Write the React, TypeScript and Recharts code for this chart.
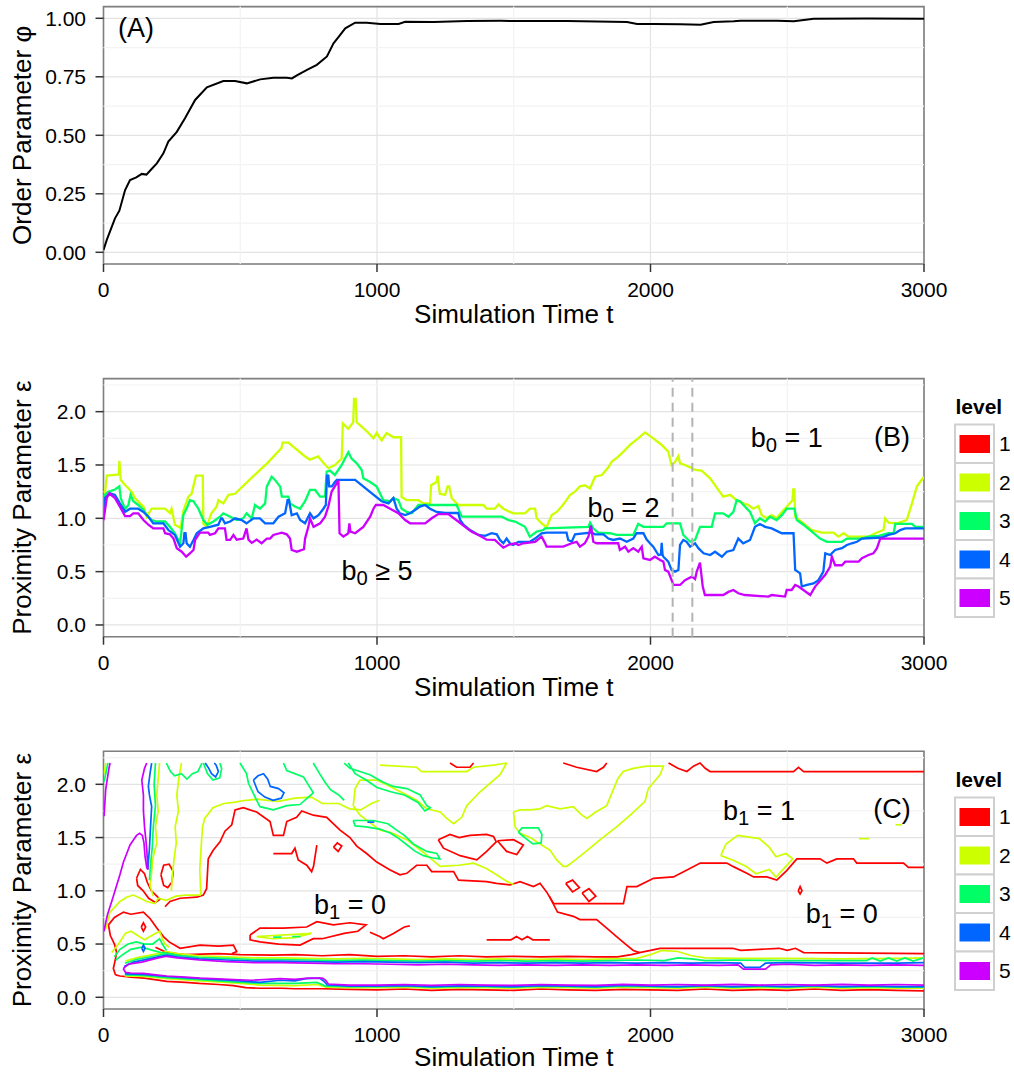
import React from 'react';
import {
  LineChart, Line, XAxis, YAxis, CartesianGrid, ReferenceLine, ReferenceArea, ReferenceDot, Legend,
} from 'recharts';

const FONT = '"Liberation Sans", Arial, Helvetica, sans-serif';
const COLORS = ['#FF0000', '#CCFF00', '#00FF66', '#0066FF', '#CC00FF'];
const LEVELS = ['1', '2', '3', '4', '5'];

const X_TICKS = [0, 1000, 2000, 3000];
const X_MINOR = [500, 1500, 2500];
const A_TICKS = [0, 0.25, 0.5, 0.75, 1];
const A_MINOR = [0.125, 0.375, 0.625, 0.875];
const BC_TICKS = [0, 0.5, 1, 1.5, 2];
const BC_MINOR = [0.25, 0.75, 1.25, 1.75, 2.25];

// ---------- Panel A : order parameter ----------
const phiTime = [0, 12, 42, 58, 79, 97, 120, 140, 157, 175, 195, 219, 237, 268, 298, 335, 378, 438, 481, 524, 573, 621, 670, 689, 707, 744, 780, 817, 841, 859, 884, 920, 963, 1012, 1079, 1103, 1207, 1329, 1451, 1695, 1914, 1951, 2012, 2109, 2183, 2231, 2304, 2329, 2463, 2524, 2597, 2793, 3000];
const phiValue = [0.01, 0.053, 0.145, 0.178, 0.266, 0.309, 0.32, 0.335, 0.332, 0.355, 0.38, 0.423, 0.473, 0.515, 0.573, 0.651, 0.705, 0.732, 0.732, 0.722, 0.739, 0.746, 0.746, 0.743, 0.756, 0.78, 0.801, 0.837, 0.893, 0.92, 0.957, 0.981, 0.981, 0.976, 0.976, 0.985, 0.984, 0.988, 0.989, 0.988, 0.984, 0.976, 0.976, 0.975, 0.972, 0.984, 0.987, 0.99, 0.99, 0.987, 0.998, 0.999, 0.998];

// ---------- Panel B : b0 persistence levels ----------
const level2B = [[0,1.0],[5,1.22],[12,1.4],[50,1.41],[56,1.41],[58,1.54],[63,1.36],[80,1.31],[103,1.25],[115,1.19],[146,1.11],[158,1.015],[176,1.09],[225,1.09],[243,1.05],[249,1.09],[261,0.94],[282,0.91],[292,1.07],[310,1.2],[322,1.23],[338,1.4],[363,1.4],[365,0.95],[377,0.92],[395,1.05],[414,1.11],[420,1.17],[438,1.14],[457,1.22],[481,1.23],[550,1.4],[600,1.52],[651,1.66],[655,1.71],[676,1.71],[737,1.58],[755,1.55],[785,1.58],[804,1.52],[822,1.47],[846,1.5],[871,1.56],[875,1.89],[895,1.84],[913,1.9],[916,2.12],[922,2.12],[926,1.9],[944,1.86],[969,1.8],[987,1.75],[999,1.8],[1017,1.73],[1035,1.8],[1060,1.76],[1088,1.76],[1090,1.2],[1109,1.17],[1151,1.17],[1169,1.14],[1194,1.14],[1198,1.31],[1218,1.34],[1222,1.4],[1226,1.3],[1230,1.23],[1249,1.22],[1258,1.3],[1264,1.3],[1273,1.19],[1297,1.125],[1389,1.125],[1401,1.09],[1431,1.09],[1444,1.13],[1462,1.09],[1486,1.06],[1498,1.047],[1541,1.047],[1559,1.09],[1578,1.09],[1584,1.0],[1602,0.953],[1620,0.916],[1639,1.03],[1657,1.06],[1675,1.11],[1687,1.15],[1706,1.22],[1724,1.25],[1742,1.3],[1760,1.31],[1779,1.28],[1797,1.39],[1822,1.406],[1846,1.478],[1858,1.53],[1882,1.578],[1901,1.625],[1925,1.688],[1955,1.75],[1980,1.806],[2010,1.75],[2040,1.69],[2065,1.625],[2077,1.5],[2090,1.53],[2102,1.584],[2108,1.516],[2126,1.5],[2145,1.478],[2163,1.453],[2187,1.447],[2218,1.375],[2248,1.266],[2266,1.203],[2291,1.22],[2315,1.17],[2339,1.14],[2358,1.125],[2376,1.09],[2394,1.115],[2407,1.03],[2425,1.0],[2443,1.03],[2461,1.0],[2480,1.06],[2504,1.125],[2519,1.17],[2522,1.27],[2526,1.27],[2529,1.015],[2559,0.953],[2590,0.89],[2626,0.866],[2669,0.866],[2687,0.828],[2706,0.86],[2724,0.828],[2797,0.828],[2822,0.86],[2852,0.89],[2858,1.0],[2870,0.96],[2901,0.953],[2937,0.984],[2956,1.14],[2974,1.3],[3000,1.39]];
const level3B = [[0,1.0],[5,1.22],[18,1.25],[42,1.27],[58,1.3],[63,1.19],[79,1.085],[91,1.125],[99,1.22],[109,1.16],[127,1.125],[146,1.08],[158,1.03],[176,0.984],[195,0.97],[225,0.97],[243,0.92],[261,0.86],[280,0.766],[286,0.9],[292,1.03],[307,1.11],[316,1.17],[329,1.16],[347,1.09],[365,0.984],[380,0.94],[402,0.97],[426,1.015],[438,1.047],[463,1.015],[487,0.984],[511,1.0],[523,1.047],[542,1.0],[554,1.125],[572,1.09],[591,1.14],[597,1.297],[615,1.39],[627,1.36],[646,1.297],[652,1.203],[676,1.203],[682,1.14],[700,1.11],[719,1.09],[737,1.16],[755,1.266],[774,1.266],[792,1.203],[810,1.203],[816,1.437],[828,1.447],[846,1.406],[871,1.5],[883,1.56],[895,1.62],[907,1.56],[926,1.516],[944,1.453],[950,1.375],[975,1.34],[999,1.297],[1023,1.17],[1048,1.16],[1060,1.19],[1078,1.17],[1090,1.09],[1109,1.06],[1127,1.047],[1151,1.125],[1291,1.125],[1310,1.015],[1456,1.015],[1480,0.984],[1505,0.97],[1541,0.92],[1559,0.828],[1584,0.875],[1608,0.89],[1614,0.906],[1773,0.92],[1779,0.96],[1791,0.906],[1809,0.866],[1852,0.86],[1876,0.844],[1937,0.844],[1955,0.947],[1974,0.92],[2047,0.92],[2059,0.953],[2108,0.953],[2120,0.844],[2145,0.78],[2163,0.797],[2181,0.92],[2224,0.92],[2236,1.047],[2266,1.047],[2285,1.015],[2303,1.06],[2315,1.17],[2327,1.16],[2345,1.11],[2364,1.06],[2382,0.953],[2400,1.0],[2419,0.97],[2437,1.015],[2461,0.984],[2480,1.03],[2498,1.09],[2526,1.09],[2535,0.984],[2559,0.94],[2590,0.875],[2620,0.81],[2645,0.78],[2700,0.78],[2718,0.81],[2773,0.81],[2797,0.828],[2834,0.835],[2870,0.86],[2889,0.86],[2895,0.947],[2956,0.947],[2968,0.92],[3000,0.92]];
const level4B = [[0,1.0],[5,1.19],[24,1.234],[42,1.22],[60,1.14],[79,1.06],[97,1.09],[127,1.09],[146,1.06],[164,1.015],[182,0.953],[219,0.953],[237,0.89],[261,0.844],[280,0.734],[292,0.766],[296,0.86],[300,0.86],[304,0.766],[316,0.734],[329,0.797],[341,0.86],[365,0.906],[389,0.92],[420,0.94],[430,1.0],[434,1.0],[444,0.953],[463,0.97],[481,1.0],[505,0.984],[523,0.953],[548,1.0],[572,1.0],[591,0.953],[621,0.953],[640,1.015],[664,1.047],[673,1.17],[678,1.17],[688,1.03],[707,1.047],[719,0.984],[737,0.953],[755,1.047],[768,1.0],[786,1.03],[804,1.09],[813,1.125],[817,1.4],[822,1.4],[825,1.3],[835,1.3],[846,1.34],[853,1.36],[920,1.36],[981,1.234],[1017,1.16],[1042,1.14],[1060,1.19],[1072,1.09],[1084,1.047],[1103,1.03],[1121,1.047],[1139,1.078],[1157,1.11],[1176,1.125],[1194,1.09],[1218,1.06],[1249,1.05],[1297,1.05],[1304,0.984],[1316,0.94],[1340,0.89],[1371,0.844],[1395,0.835],[1419,0.86],[1438,0.85],[1450,0.797],[1462,0.766],[1474,0.81],[1486,0.766],[1498,0.75],[1517,0.78],[1559,0.78],[1578,0.81],[1602,0.86],[1620,0.866],[1693,0.866],[1699,0.797],[1712,0.78],[1724,0.85],[1779,0.866],[1782,0.93],[1785,0.866],[1797,0.85],[1828,0.85],[1846,0.81],[1864,0.797],[1888,0.81],[1913,0.78],[1937,0.81],[1949,0.86],[1974,0.86],[1986,0.8],[1998,0.766],[2010,0.734],[2029,0.656],[2038,0.66],[2041,0.77],[2044,0.66],[2047,0.64],[2065,0.594],[2077,0.516],[2090,0.5],[2102,0.516],[2108,0.75],[2120,0.797],[2132,0.78],[2145,0.734],[2163,0.766],[2175,0.72],[2194,0.672],[2218,0.656],[2236,0.687],[2261,0.64],[2279,0.687],[2303,0.703],[2321,0.81],[2339,0.766],[2364,0.797],[2382,0.92],[2400,0.947],[2419,0.92],[2443,0.906],[2480,0.86],[2523,0.86],[2529,0.516],[2547,0.484],[2553,0.36],[2572,0.375],[2596,0.39],[2614,0.42],[2632,0.5],[2639,0.672],[2657,0.656],[2675,0.703],[2700,0.72],[2718,0.75],[2736,0.766],[2755,0.78],[2773,0.81],[2846,0.82],[2870,0.844],[2895,0.86],[2913,0.89],[2931,0.906],[3000,0.906]];
const level5B = [[0,0.98],[12,1.19],[21,1.234],[42,1.19],[60,1.11],[79,1.02],[97,1.02],[109,1.047],[127,1.047],[146,0.984],[164,0.94],[182,0.906],[219,0.906],[225,0.86],[243,0.85],[256,0.81],[268,0.719],[286,0.687],[302,0.64],[316,0.672],[329,0.703],[335,0.797],[347,0.844],[353,0.866],[383,0.866],[389,0.844],[408,0.86],[420,0.906],[444,0.906],[450,0.797],[463,0.797],[475,0.844],[487,0.8],[511,0.81],[523,0.906],[530,0.8],[542,0.77],[560,0.8],[578,0.766],[597,0.81],[609,0.81],[621,0.844],[652,0.866],[670,0.85],[682,0.81],[688,0.703],[707,0.687],[733,0.71],[737,0.81],[749,0.92],[755,1.0],[768,0.92],[792,0.953],[810,1.015],[822,1.11],[834,1.25],[853,1.33],[859,1.36],[863,0.86],[877,0.828],[895,0.86],[899,0.953],[903,0.875],[920,0.86],[950,0.92],[975,1.015],[987,1.09],[996,1.125],[1023,1.125],[1048,1.09],[1078,1.047],[1103,0.984],[1121,0.953],[1176,0.953],[1200,1.0],[1224,1.04],[1261,1.04],[1297,0.97],[1322,0.92],[1346,0.875],[1371,0.844],[1401,0.8],[1431,0.797],[1444,0.766],[1462,0.725],[1480,0.75],[1505,0.766],[1517,0.75],[1535,0.766],[1578,0.78],[1602,0.828],[1614,0.77],[1620,0.734],[1681,0.734],[1712,0.766],[1730,0.78],[1742,0.734],[1760,0.766],[1773,0.828],[1782,0.93],[1791,0.78],[1803,0.766],[1882,0.766],[1888,0.703],[1907,0.734],[1919,0.687],[1937,0.72],[1955,0.687],[1968,0.734],[1974,0.625],[1998,0.61],[2016,0.64],[2035,0.61],[2047,0.594],[2053,0.516],[2065,0.5],[2084,0.375],[2108,0.375],[2126,0.42],[2151,0.453],[2163,0.43],[2169,0.5],[2181,0.584],[2191,0.36],[2199,0.281],[2266,0.281],[2285,0.31],[2303,0.328],[2321,0.297],[2345,0.281],[2431,0.266],[2443,0.281],[2492,0.266],[2498,0.328],[2516,0.328],[2529,0.375],[2541,0.36],[2559,0.328],[2584,0.281],[2602,0.36],[2639,0.47],[2657,0.547],[2663,0.64],[2675,0.56],[2700,0.56],[2712,0.594],[2761,0.594],[2773,0.625],[2797,0.656],[2815,0.672],[2828,0.72],[2840,0.81],[3000,0.81]];
const dashedTimes = [2081, 2153];

// ---------- Panel C : b1 contour paths ----------
const cRedTop = [[2066,2.2],[2100,2.15],[2133,2.12],[2157,2.17],[2181,2.2],[2200,2.15],[2218,2.12],[2523,2.12],[2541,2.16],[2560,2.12],[3000,2.12]];
const cRedCupA = [[1267,2.2],[1291,2.16],[1340,2.16],[1353,2.2]];
const cRedCupB = [[1681,2.2],[1730,2.16],[1803,2.12],[1828,2.16],[1840,2.2]];
const cRedBig = [[225,0.85],[243,0.9],[280,0.93],[341,0.94],[365,0.96],[377,1.02],[383,1.3],[401,1.38],[426,1.46],[444,1.56],[469,1.62],[481,1.76],[511,1.78],[560,1.74],[609,1.65],[621,1.52],[658,1.52],[670,1.65],[706,1.69],[725,1.75],[767,1.71],[816,1.69],[840,1.63],[865,1.57],[901,1.5],[926,1.42],[962,1.35],[999,1.27],[1048,1.195],[1084,1.15],[1109,1.164],[1145,1.24],[1182,1.24],[1200,1.18],[1280,1.18],[1298,1.1],[1401,1.086],[1437,1.07],[1486,1.055],[1523,1.086],[1572,1.04],[1596,1.07],[1620,0.99],[1646,0.88],[1700,0.88],[1804,0.88],[1901,0.88],[1914,1.04],[1950,1.04],[2011,1.117],[2084,1.13],[2121,1.18],[2182,1.26],[2279,1.26],[2303,1.227],[2352,1.164],[2377,1.13],[2425,1.13],[2462,1.1],[2474,1.13],[2498,1.19],[2535,1.3],[2620,1.3],[2645,1.26],[2681,1.3],[2742,1.3],[2754,1.26],[2925,1.26],[2943,1.22],[3000,1.22]];
const cRedDiag = [[1630,0.95],[1660,0.8],[1718,0.76],[1742,0.73],[1803,0.73],[1840,0.65],[1876,0.57],[1913,0.49],[1937,0.44],[1960,0.42],[2000,0.44],[2035,0.46],[2300,0.46],[2330,0.44],[2470,0.46],[2500,0.44],[2530,0.46],[2560,0.42],[3000,0.41]];
const cRedLower = [[190,0.47],[231,0.42],[300,0.4],[420,0.41],[500,0.4],[620,0.395],[700,0.4],[800,0.39],[900,0.4],[1000,0.385],[1100,0.39],[1200,0.38],[1300,0.39],[1400,0.38],[1500,0.385],[1600,0.38],[1700,0.385],[1800,0.38],[1880,0.38],[1930,0.4],[1960,0.42]];
const cRedBottom = [[44,0.21],[60,0.2],[100,0.19],[150,0.18],[231,0.15],[300,0.14],[350,0.13],[420,0.12],[475,0.11],[520,0.09],[572,0.085],[650,0.085],[700,0.08],[800,0.08],[901,0.075],[1000,0.07],[1100,0.078],[1200,0.065],[1300,0.075],[1400,0.07],[1500,0.065],[1600,0.078],[1700,0.07],[1800,0.065],[1900,0.075],[2000,0.07],[2100,0.065],[2200,0.078],[2300,0.065],[2400,0.072],[2500,0.065],[2600,0.078],[2700,0.065],[2800,0.072],[2900,0.065],[3000,0.06]];
const cRedLeft1 = [[18,0.68],[40,0.75],[73,0.8],[100,0.78],[146,0.8],[170,0.74],[195,0.65],[219,0.57],[240,0.52],[280,0.46],[353,0.49],[420,0.48],[475,0.49],[487,0.43],[470,0.41]];
const cRedLeft2 = [[18,0.68],[25,0.58],[40,0.5],[48,0.42],[42,0.34],[36,0.27],[44,0.21]];
const cRedLoopL1 = [[121,1.12],[135,1.2],[150,1.16],[160,1.08],[175,1.0],[195,0.95],[206,0.92],[190,0.89],[165,0.93],[145,1.0],[125,1.05],[121,1.12]];
const cRedLoopL2 = [[210,1.15],[220,1.24],[240,1.25],[255,1.18],[250,1.08],[235,1.03],[220,1.05],[210,1.15]];
const cRedCircle = [[138,0.66],[146,0.7],[154,0.66],[146,0.62],[138,0.66]];
const cRedMid1 = [[536,0.585],[572,0.65],[657,0.65],[743,0.66],[780,0.71],[840,0.68],[901,0.7],[960,0.68],[930,0.62],[880,0.6],[800,0.55],[767,0.55],[719,0.49],[640,0.5],[572,0.52],[536,0.54],[536,0.585]];
const cRedMid2 = [[974,0.61],[1010,0.57],[1023,0.55],[1060,0.6],[1100,0.66],[1120,0.67]];
const cRedMid3 = [[1401,0.54],[1490,0.54],[1510,0.57],[1530,0.54],[1550,0.57],[1570,0.54],[1632,0.54]];
const cRedMid5 = [[621,1.35],[688,1.35],[700,1.4],[712,1.29],[743,1.24],[761,1.18],[768,1.23],[780,1.43]];
const cRedLoop1 = [[1224,1.48],[1267,1.53],[1300,1.5],[1340,1.52],[1400,1.53],[1426,1.51],[1436,1.46],[1401,1.37],[1365,1.29],[1304,1.33],[1243,1.4],[1224,1.48]];
const cRedLoop2 = [[1440,1.47],[1499,1.48],[1535,1.43],[1511,1.34],[1474,1.37],[1440,1.47]];
const cRedDiam1 = [[1690,1.07],[1715,1.1],[1740,1.03],[1715,0.99],[1690,1.07]];
const cRedDiam2 = [[1750,0.98],[1775,1.02],[1800,0.95],[1775,0.9],[1750,0.98]];
const cRedSmall = [[2540,1.0],[2547,1.04],[2554,1.0],[2547,0.97],[2540,1.0]];
const cRedTiny = [[841,1.41],[855,1.45],[871,1.42],[858,1.37],[841,1.41]];

const cYelUp = [[80,0.34],[120,0.37],[200,0.41],[231,0.43],[270,0.41],[350,0.39],[450,0.38],[550,0.37],[650,0.37],[750,0.365],[850,0.36],[950,0.365],[1050,0.36],[1150,0.355],[1250,0.36],[1350,0.355],[1450,0.36],[1550,0.355],[1650,0.36],[1750,0.355],[1850,0.36],[1950,0.365],[2000,0.4],[2040,0.44],[2100,0.43],[2150,0.39],[2200,0.37],[2300,0.365],[2500,0.365],[2700,0.36],[2900,0.365],[3000,0.37]];
const cYelLow = [[78,0.2],[146,0.195],[231,0.175],[353,0.155],[475,0.135],[572,0.115],[700,0.11],[780,0.12],[815,0.095],[900,0.09],[1000,0.09],[1100,0.095],[1200,0.085],[1300,0.09],[1400,0.09],[1500,0.085],[1600,0.095],[1700,0.09],[1800,0.085],[1900,0.095],[2000,0.09],[2100,0.085],[2200,0.095],[2300,0.085],[2400,0.09],[2500,0.085],[2600,0.095],[2700,0.085],[2800,0.09],[2900,0.085],[3000,0.085]];
const cYelFar = [[2,2.1],[8,2.2]];
const cYelL1 = [[8,0.64],[24,0.8],[60,0.9],[85,0.94],[109,0.96],[135,0.93],[158,0.9],[188,0.88],[200,0.93],[230,0.91],[265,0.95],[300,0.96],[356,0.96]];
const cYelL4 = [[30,0.42],[55,0.5],[80,0.6],[100,0.62],[125,0.58],[150,0.54],[170,0.57],[190,0.6],[205,0.62],[215,0.55],[225,0.5],[240,0.47]];
const cYelMain = [[356,0.96],[352,1.2],[358,1.45],[362,1.6],[370,1.68],[400,1.78],[440,1.82],[475,1.83],[520,1.85],[560,1.86],[600,1.85],[640,1.84],[700,1.87],[760,1.88],[800,1.82],[860,1.82],[900,1.77],[940,1.76],[980,1.82],[1010,1.85]];
const cYelDiag = [[913,1.8],[938,1.71],[1011,1.57],[1048,1.55],[1109,1.48],[1170,1.36],[1231,1.23],[1300,1.24],[1353,1.26],[1400,1.21],[1437,1.15],[1474,1.09],[1500,1.06]];
const cYelMidTop = [[1011,2.18],[1145,2.16],[1163,2.12],[1328,2.12],[1353,2.16],[1426,2.18],[1474,2.2]];
const cYelMid2 = [[1474,2.2],[1450,2.09],[1377,1.93],[1328,1.8],[1310,1.69],[1280,1.63],[1255,1.68],[1231,1.74],[1182,1.77],[1145,1.85],[1109,1.9],[1048,1.98],[999,2.04],[938,2.04],[920,1.96],[913,1.8]];
const cYelR1 = [[1499,1.74],[1523,1.76],[1560,1.76],[1596,1.77],[1620,1.8],[1669,1.77],[1718,1.79],[1745,1.72],[1767,1.68],[1800,1.74],[1840,1.8],[1864,1.95],[1880,2.05],[1900,2.12],[1937,2.15],[1986,2.17],[2047,2.17],[2035,2.09],[1992,1.96],[1980,1.84],[1930,1.72],[1876,1.6],[1816,1.48],[1760,1.36],[1710,1.26],[1694,1.23],[1681,1.23],[1657,1.29],[1633,1.38],[1584,1.46],[1560,1.5],[1523,1.54],[1505,1.6],[1499,1.74]];
const cYelRLoop = [[2257,1.33],[2276,1.44],[2319,1.52],[2398,1.49],[2434,1.41],[2459,1.32],[2495,1.35],[2520,1.3],[2495,1.23],[2459,1.13],[2434,1.2],[2386,1.16],[2349,1.23],[2300,1.29],[2257,1.33]];
const cYelV200 = [[205,2.2],[200,2.05],[195,1.9],[200,1.75],[190,1.6],[195,1.45],[180,1.3],[175,1.15],[170,1.05],[182,0.95]];
const cYelV270 = [[285,2.2],[275,2.05],[268,1.9],[274,1.75],[262,1.6],[266,1.45],[258,1.3],[252,1.15],[248,1.0]];
const cYelMidSmall = [[560,0.57],[620,0.58],[700,0.59],[760,0.6],[700,0.56],[620,0.55],[560,0.57]];
const cYelDash1 = [[2762,1.49],[2799,1.49]];
const cYelDash2 = [[2896,1.62],[2920,1.62]];

const cGrnUp = [[78,0.32],[120,0.355],[200,0.395],[231,0.41],[270,0.395],[350,0.375],[450,0.365],[550,0.355],[650,0.355],[750,0.35],[850,0.345],[950,0.35],[1050,0.345],[1150,0.34],[1250,0.345],[1350,0.34],[1450,0.345],[1550,0.34],[1650,0.345],[1750,0.34],[1850,0.345],[1950,0.35],[2050,0.345],[2100,0.37],[2150,0.36],[2200,0.345],[2300,0.35],[2500,0.345],[2700,0.345],[2790,0.345],[2810,0.37],[2840,0.34],[2870,0.37],[2900,0.34],[2930,0.37],[2960,0.34],[3000,0.37]];
const cGrnLow = [[80,0.21],[146,0.205],[231,0.185],[353,0.165],[475,0.145],[572,0.13],[700,0.13],[780,0.14],[812,0.105],[900,0.1],[1000,0.1],[1100,0.105],[1200,0.095],[1300,0.1],[1400,0.1],[1500,0.095],[1600,0.105],[1700,0.1],[1800,0.095],[1900,0.105],[2000,0.1],[2100,0.095],[2200,0.105],[2300,0.095],[2400,0.1],[2500,0.095],[2600,0.105],[2700,0.095],[2800,0.1],[2900,0.095],[3000,0.095]];
const cGrnFar = [[2,2.02],[10,2.12],[16,2.2]];
const cGrnV190 = [[190,2.2],[185,2.0],[190,1.8],[182,1.6],[178,1.4],[172,1.25],[168,1.1]];
const cGrnTop1 = [[230,2.2],[245,2.12],[260,2.08],[285,2.1],[305,2.05],[325,2.1],[345,2.12],[360,2.2]];
const cGrnL2 = [[365,2.2],[380,2.1],[400,2.04],[425,2.06],[432,2.15],[425,2.2]];
const cGrnL3 = [[499,2.2],[523,2.1],[530,2.01],[560,1.85],[572,1.79],[621,1.76],[670,1.8],[718,1.81],[767,1.92],[731,2.07],[670,2.13],[658,2.2]];
const cGrnTop3 = [[767,2.2],[790,2.1],[810,2.02],[830,1.95],[860,1.9],[880,1.85]];
const cGrnStrip1 = [[880,2.2],[901,2.15],[974,2.09],[1023,2.02],[1060,1.98],[1109,1.96],[1158,1.9],[1182,1.8],[1195,1.78],[1175,1.75],[1150,1.83],[1100,1.9],[1050,1.93],[1000,1.97],[960,2.04],[920,2.1],[895,2.2]];
const cGrnStrip2 = [[913,1.66],[987,1.66],[1040,1.63],[1072,1.57],[1100,1.52],[1133,1.44],[1160,1.4],[1182,1.37],[1219,1.35],[1230,1.3],[1200,1.31],[1170,1.33],[1140,1.37],[1110,1.43],[1080,1.49],[1050,1.54],[1010,1.58],[960,1.6],[920,1.61],[913,1.66]];
const cGrnR = [[1517,1.55],[1530,1.59],[1590,1.59],[1603,1.53],[1600,1.45],[1570,1.44],[1540,1.5],[1517,1.55]];
const cGrnMid1 = [[620,0.565],[650,0.565]];
const cGrnMid2 = [[690,0.57],[720,0.57]];
const cGrnL4 = [[45,0.35],[70,0.4],[100,0.45],[140,0.47],[180,0.44],[210,0.42],[240,0.41],[280,0.39]];
const cGrnL5 = [[40,0.38],[60,0.45],[90,0.5],[120,0.52],[150,0.5],[180,0.5],[205,0.55],[215,0.5],[230,0.44]];

const cBluUp = [[75,0.29],[110,0.33],[200,0.38],[231,0.395],[270,0.38],[350,0.36],[450,0.35],[550,0.34],[650,0.34],[750,0.335],[850,0.33],[950,0.335],[1050,0.33],[1150,0.325],[1250,0.33],[1350,0.32],[1450,0.325],[1550,0.32],[1650,0.325],[1750,0.32],[1850,0.325],[1950,0.32],[2050,0.325],[2150,0.32],[2250,0.325],[2330,0.32],[2345,0.28],[2400,0.28],[2420,0.32],[2500,0.325],[2700,0.32],[2900,0.32],[3000,0.325]];
const cBluLow = [[78,0.22],[146,0.215],[231,0.195],[353,0.175],[475,0.158],[572,0.14],[645,0.16],[700,0.155],[740,0.175],[790,0.18],[806,0.15],[818,0.115],[900,0.105],[1000,0.105],[1100,0.11],[1200,0.1],[1300,0.108],[1400,0.105],[1500,0.1],[1600,0.11],[1700,0.105],[1800,0.1],[1900,0.112],[2000,0.105],[2100,0.1],[2200,0.11],[2300,0.1],[2400,0.108],[2500,0.1],[2600,0.11],[2700,0.1],[2800,0.108],[2900,0.1],[3000,0.1]];
const cBluV = [[162,1.2],[168,1.4],[172,1.6],[176,1.79],[168,1.9],[164,1.98],[170,2.1],[176,2.2]];
const cBluL1 = [[372,2.2],[385,2.15],[395,2.1],[410,2.07],[420,2.12],[412,2.18],[405,2.2]];
const cBluL2 = [[548,2.04],[565,2.08],[585,2.1],[600,2.05],[610,1.98],[640,1.96],[660,1.92],[650,1.87],[620,1.85],[590,1.88],[565,1.93],[548,2.04]];
const cBluD1 = [[965,1.645],[990,1.645]];
const cBluDot = [[140,0.46],[146,0.49],[152,0.46],[146,0.43],[140,0.46]];

const cPurUp = [[72,0.27],[90,0.31],[140,0.33],[200,0.37],[231,0.385],[270,0.37],[350,0.35],[450,0.335],[550,0.325],[650,0.325],[750,0.32],[850,0.315],[950,0.315],[1050,0.31],[1150,0.305],[1250,0.31],[1350,0.305],[1450,0.3],[1550,0.305],[1650,0.3],[1750,0.305],[1850,0.3],[1950,0.305],[2050,0.3],[2150,0.305],[2250,0.3],[2320,0.305],[2340,0.265],[2420,0.265],[2440,0.305],[2500,0.31],[2600,0.3],[2700,0.305],[2800,0.3],[2900,0.305],[3000,0.3]];
const cPurLow = [[72,0.27],[80,0.235],[100,0.228],[146,0.225],[200,0.208],[231,0.2],[300,0.19],[353,0.18],[420,0.172],[475,0.165],[540,0.16],[600,0.168],[645,0.175],[700,0.168],[750,0.18],[800,0.18],[812,0.16],[822,0.125],[900,0.115],[1000,0.115],[1100,0.12],[1200,0.112],[1300,0.12],[1400,0.115],[1500,0.112],[1600,0.12],[1700,0.115],[1800,0.112],[1900,0.122],[2000,0.115],[2100,0.12],[2200,0.115],[2300,0.122],[2400,0.115],[2500,0.12],[2600,0.115],[2700,0.122],[2800,0.115],[2900,0.12],[3000,0.115]];
const cPurLeft = [[2,0.62],[8,0.7],[15,0.78],[30,0.9],[48,1.05],[60,1.15],[73,1.27],[85,1.35],[97,1.43],[110,1.48],[121,1.52],[132,1.54],[142,1.52],[148,1.45],[152,1.32],[158,1.22],[162,1.2]];
const cPurV = [[162,1.2],[158,1.4],[150,1.6],[146,1.75],[146,1.9],[140,2.04],[150,2.15],[158,2.2]];
const cPurFar = [[2,1.7],[8,1.95],[14,2.05],[20,2.15],[24,2.2]];

const C_PATHS: { level: number; pts: number[][] }[] = [
  ...[cRedTop, cRedCupA, cRedCupB, cRedBig, cRedDiag, cRedLower, cRedBottom, cRedLeft1, cRedLeft2, cRedLoopL1, cRedLoopL2, cRedCircle, cRedMid1, cRedMid2, cRedMid3, cRedMid5, cRedLoop1, cRedLoop2, cRedDiam1, cRedDiam2, cRedSmall, cRedTiny].map((pts) => ({ level: 1, pts })),
  ...[cYelUp, cYelLow, cYelFar, cYelL1, cYelL4, cYelMain, cYelDiag, cYelMidTop, cYelMid2, cYelR1, cYelRLoop, cYelV200, cYelV270, cYelMidSmall, cYelDash1, cYelDash2].map((pts) => ({ level: 2, pts })),
  ...[cGrnUp, cGrnLow, cGrnFar, cGrnV190, cGrnTop1, cGrnL2, cGrnL3, cGrnTop3, cGrnStrip1, cGrnStrip2, cGrnR, cGrnMid1, cGrnMid2, cGrnL4, cGrnL5].map((pts) => ({ level: 3, pts })),
  ...[cBluUp, cBluLow, cBluV, cBluL1, cBluL2, cBluD1, cBluDot].map((pts) => ({ level: 4, pts })),
  ...[cPurUp, cPurLow, cPurLeft, cPurV, cPurFar].map((pts) => ({ level: 5, pts })),
];

// annotations: x, y (text baseline), main text, subscript, rest
const annotA = [{ x: 119, y: 0.919, main: '(A)', sub: '', rest: '' }];
const annotB = [
  { x: 1000, y: 0.42, main: 'b', sub: '0', rest: ' \u2265 5' },
  { x: 1901, y: 1.015, main: 'b', sub: '0', rest: ' = 2' },
  { x: 2498, y: 1.67, main: 'b', sub: '0', rest: ' = 1' },
  { x: 2883, y: 1.68, main: '(B)', sub: '', rest: '' },
];
const annotC = [
  { x: 901, y: 0.783, main: 'b', sub: '1', rest: ' = 0' },
  { x: 2397, y: 1.665, main: 'b', sub: '1', rest: ' = 1' },
  { x: 2699, y: 0.7, main: 'b', sub: '1', rest: ' = 0' },
  { x: 2883, y: 1.68, main: '(C)', sub: '', rest: '' },
];

const pts = (a: number[][]) => a.map(([x, y]) => ({ x, y }));
const phiData = phiTime.map((t, i) => ({ x: t, y: phiValue[i] }));

const tickStyle = { fontSize: 21, fill: '#000', fontFamily: FONT };

function annotLabel(a: { main: string; sub: string; rest: string }) {
  const size = 27;
  return (props: any) => {
    const vb = props.viewBox || {};
    const cx = (vb.x || 0) + (vb.width || 0) / 2;
    const cy = (vb.y || 0) + (vb.height || 0) / 2;
    return (
      <text x={cx} y={cy} textAnchor="middle" fontSize={size} fontFamily={FONT} fill="#000" style={{ whiteSpace: 'pre' }}>
        <tspan>{a.main}</tspan>
        {a.sub ? <tspan dy={size * 0.18} fontSize={size * 0.75}>{a.sub}</tspan> : null}
        {a.sub ? <tspan dy={-size * 0.18}>{a.rest}</tspan> : null}
      </text>
    );
  };
}

function xTitleLabel(offset: number) {
  return (props: any) => {
    const vb = props.viewBox || {};
    return (
      <text x={(vb.x || 0) + (vb.width || 0) / 2} y={(vb.y || 0) + offset} textAnchor="middle" fontSize={26} fontFamily={FONT} fill="#000">
        Simulation Time t
      </text>
    );
  };
}

function yTitleLabel(title: string) {
  return (props: any) => {
    const vb = props.viewBox || {};
    const x = (vb.x || 0) + 23;
    const y = (vb.y || 0) + (vb.height || 0) / 2;
    return (
      <text x={x} y={y} transform={`rotate(-90 ${x} ${y})`} textAnchor="middle" fontSize={26} fontFamily={FONT} fill="#000">
        {title}
      </text>
    );
  };
}

function LegendBox() {
  return (
    <svg width={72} height={236} style={{ overflow: 'visible', display: 'block' }}>
      <text x={8.5} y={24} fontSize={21} fontWeight="bold" fontFamily={FONT} fill="#000">level</text>
      {LEVELS.map((lv, i) => {
        const top = 34.5 + i * 38.5;
        return (
          <g key={lv}>
            <rect x={8} y={top} width={39} height={38.5} fill="#ffffff" stroke="#d0d0d0" strokeWidth={2} />
            <rect x={12.5} y={top + 10.5} width={30.5} height={18} fill={COLORS[i]} />
            <text x={52} y={top + 19.25 + 7.5} fontSize={21} fontFamily={FONT} fill="#000">{lv}</text>
          </g>
        );
      })}
    </svg>
  );
}

type PanelCfg = {
  top: number; height: number; mTop: number; mBottom: number;
  yDomain: [number, number]; yTicks: number[]; yMinor: number[]; yFmt: (v: number) => string;
  yTitle: string; legendTop?: number; xTitleOffset: number;
};

function renderPanel(cfg: PanelCfg, body: React.ReactNode[], key: string) {
  return (
    <div key={key} style={{ position: 'absolute', left: 0, top: cfg.top }}>
      <LineChart width={1014} height={cfg.height} margin={{ top: cfg.mTop, right: 90, bottom: cfg.mBottom, left: 8.5 }}>
        <CartesianGrid stroke="#e3e3e3" strokeWidth={1.2} />
        {X_MINOR.map((v) => <ReferenceLine key={'xm' + v} x={v} stroke="#f3f3f3" strokeWidth={1.2} />)}
        {cfg.yMinor.map((v) => <ReferenceLine key={'ym' + v} y={v} stroke="#f3f3f3" strokeWidth={1.2} />)}
        <XAxis
          type="number" dataKey="x" domain={[0, 3000]} ticks={X_TICKS} allowDataOverflow height={60}
          tickSize={8} tickMargin={10} axisLine={false} tickLine={{ stroke: '#333', strokeWidth: 1.5 }}
          tick={tickStyle} label={xTitleLabel(cfg.xTitleOffset)}
        />
        <YAxis
          type="number" domain={cfg.yDomain} ticks={cfg.yTicks} allowDataOverflow width={95}
          tickSize={8} tickMargin={9.5} axisLine={false} tickLine={{ stroke: '#333', strokeWidth: 1.5 }}
          tick={tickStyle} tickFormatter={cfg.yFmt} label={yTitleLabel(cfg.yTitle)}
        />
        {body}
        <ReferenceArea x1={0} x2={3000} y1={cfg.yDomain[0]} y2={cfg.yDomain[1]} fill="none" fillOpacity={0} stroke="#7f7f7f" strokeWidth={1.6} ifOverflow="visible" />
        {cfg.legendTop !== undefined ? (
          <Legend
            layout="vertical" align="center" verticalAlign="middle"
            wrapperStyle={{ left: 947, top: cfg.legendTop, width: 72, height: 236 }}
            content={() => <LegendBox />}
          />
        ) : null}
      </LineChart>
    </div>
  );
}

function annotDots(list: { x: number; y: number; main: string; sub: string; rest: string }[], prefix: string) {
  return list.map((a, i) => (
    <ReferenceDot key={prefix + i} x={a.x} y={a.y} r={1} fill="none" fillOpacity={0} stroke="none" label={annotLabel(a)} />
  ));
}

export default function App() {
  const aBody: React.ReactNode[] = [
    <Line key="phi" data={phiData} dataKey="y" type="linear" stroke="#000" strokeWidth={2} dot={false} activeDot={false} isAnimationActive={false} />,
    ...annotDots(annotA, 'aa'),
  ];

  const bSeries = [level2B, level3B, level4B, level5B];
  const bBody: React.ReactNode[] = [
    ...bSeries.map((s, i) => (
      <Line key={'b' + i} data={pts(s)} dataKey="y" name={LEVELS[i + 1]} type="linear" stroke={COLORS[i + 1]} strokeWidth={2.3} dot={false} activeDot={false} isAnimationActive={false} />
    )),
    ...dashedTimes.map((t) => (
      <ReferenceLine key={'d' + t} x={t} stroke="#b3b3b3" strokeWidth={2} strokeDasharray="9 6" />
    )),
    ...annotDots(annotB, 'ab'),
  ];

  const cBody: React.ReactNode[] = [
    ...C_PATHS.map((p, i) => (
      <Line key={'c' + i} data={pts(p.pts)} dataKey="y" type="linear" stroke={COLORS[p.level - 1]} strokeWidth={1.7} dot={false} activeDot={false} isAnimationActive={false} />
    )),
    ...annotDots(annotC, 'ac'),
  ];

  return (
    <div style={{ position: 'absolute', left: 0, top: 0, width: 1014, height: 1072, background: '#fff', fontFamily: FONT }}>
      {renderPanel({ top: 0, height: 340, mTop: 6.6, mBottom: 16, yDomain: [-0.05, 1.05], yTicks: A_TICKS, yMinor: A_MINOR, yFmt: (v) => v.toFixed(2), yTitle: 'Order Parameter \u03C6', xTitleOffset: 59 }, aBody, 'A')}
      {renderPanel({ top: 340, height: 370, mTop: 38.6, mBottom: 13.3, yDomain: [-0.11, 2.31], yTicks: BC_TICKS, yMinor: BC_MINOR, yFmt: (v) => v.toFixed(1), yTitle: 'Proximity Parameter \u03B5', legendTop: 50, xTitleOffset: 59 }, bBody, 'B')}
      {renderPanel({ top: 706, height: 366, mTop: 45.3, mBottom: 3, yDomain: [-0.11, 2.31], yTicks: BC_TICKS, yMinor: BC_MINOR, yFmt: (v) => v.toFixed(1), yTitle: 'Proximity Parameter \u03B5', legendTop: 56.5, xTitleOffset: 57 }, cBody, 'C')}
    </div>
  );
}
